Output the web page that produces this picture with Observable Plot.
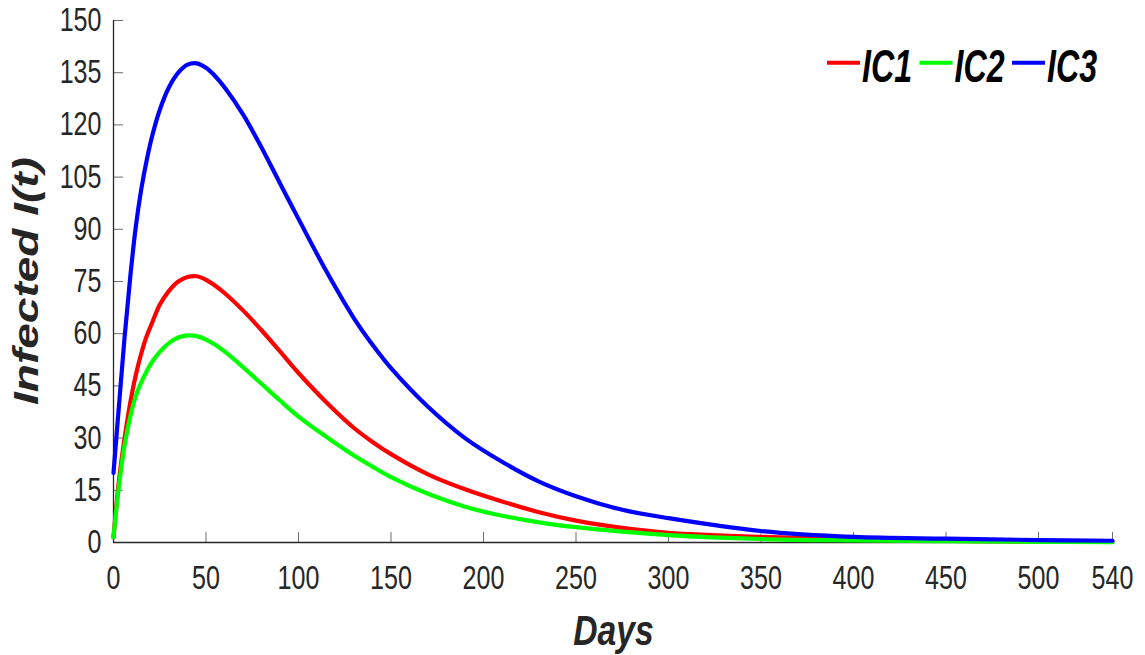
<!DOCTYPE html>
<html><head><meta charset="utf-8">
<script src="https://cdn.jsdelivr.net/npm/d3@7"></script>
<script src="https://cdn.jsdelivr.net/npm/@observablehq/plot@0.6"></script>
<style>
html,body{margin:0;padding:0;background:#fff;}
#chart{position:relative;width:1145px;height:655px;}
</style></head><body><div id="chart"></div>
<script>
const days = [0,3,6,9,12,15,18,21,25,30,35,40,45,50,55,60,70,80,90,100,115,130,140,150,170,190,210,230,250,275,300,350,400,450,500,540];
const ic1 = [1.5,18,30,40,48,54.3,59.4,63.3,68.3,72.3,75,76.3,76.5,75.5,73.8,71.7,66.7,61,54.9,48.7,40.3,32.9,28.9,25.4,19.6,15.3,11.8,8.7,6.3,4.2,2.8,1.6,0.9,0.5,0.3,0.2];
const ic2 = [1.5,16.5,28,36,42,46,49.3,52,54.8,57.3,58.9,59.5,59.3,58.3,56.8,54.9,50.4,45.6,40.8,36.2,30.4,25,21.8,18.8,14,10.3,7.7,5.8,4.4,3.1,2.1,1,0.6,0.4,0.2,0.1];
const ic3 = [20,39.6,59,76,90.5,101.5,110,117,124.3,130.8,135,137.3,137.7,136.4,134,130.8,123,113.5,103.2,93,78,64.4,56.8,50.1,39,30,23.2,17.5,13.3,9.4,7,3.3,1.6,1.1,0.7,0.5];
const seriesNames = ["IC1","IC2","IC3"];
const seriesColors = ["#ff0000","#00ff00","#0000ff"];
const xTicks = [0,50,100,150,200,250,300,350,400,450,500,540];
const yTicks = [0,15,30,45,60,75,90,105,120,135,150];
const xLabel = "Days";
const yLabel = "Infected I(t)";

const table = [ic1, ic2, ic3].flatMap((vals, k) => vals.map((v, i) => ({day: days[i], value: v, series: seriesNames[k]})));

const FONT = "'Liberation Sans', Arial, Helvetica, sans-serif";
const TXT = "#262626";
const W = 1145, H = 655, ML = 113, MR = 33, MT = 20, MB = 113;

const plot = Plot.plot({
  width: W, height: H,
  marginLeft: ML, marginRight: MR, marginTop: MT, marginBottom: MB,
  style: {fontFamily: FONT, background: "#fff", color: TXT},
  x: {domain: [0, 540]},
  y: {domain: [0, 150]},
  color: {domain: seriesNames, range: seriesColors},
  marks: [
    Plot.axisX({ticks: xTicks, tickSize: -10, tickPadding: 33, fontSize: 33, stroke: "#6e6e6e", fill: TXT, label: null, tickFormat: d => String(d)}),
    Plot.axisY({ticks: yTicks, tickSize: -10, tickPadding: 22, fontSize: 33, stroke: "#6e6e6e", fill: TXT, label: null, tickFormat: d => String(d)}),
    Plot.ruleX([0], {stroke: TXT, strokeWidth: 1.3}),
    Plot.ruleY([0], {stroke: TXT, strokeWidth: 1.3}),
    Plot.line(table, {x: "day", y: "value", stroke: "series", z: "series", strokeWidth: 4.2, curve: "catmull-rom"})
  ]
});

const svg = d3.select(plot);
function squeeze(sel, sx, sy) {
  sel.each(function() {
    const t = this.getAttribute("transform") || "";
    this.setAttribute("transform", t + ` scale(${sx},${sy})`);
  });
}
squeeze(svg.selectAll('g[aria-label="x-axis tick label"] text'), 0.76, 1);
squeeze(svg.selectAll('g[aria-label="y-axis tick label"] text'), 0.76, 1);

// axis titles
const frameCx = (ML + W - MR) / 2, frameCy = (MT + H - MB) / 2;
svg.append("text")
  .attr("transform", `translate(${frameCx + 1},645) scale(0.8,1)`)
  .attr("text-anchor", "middle").attr("font-family", FONT).attr("font-size", 42)
  .attr("font-weight", "bold").attr("font-style", "italic").attr("fill", TXT).text(xLabel);
svg.append("text")
  .attr("transform", `translate(38,${frameCy}) rotate(-90) scale(1,0.76)`)
  .attr("text-anchor", "middle").attr("font-family", FONT).attr("font-size", 46)
  .attr("font-weight", "bold").attr("font-style", "italic").attr("fill", TXT).text(yLabel);

// legend
const lg = svg.append("g").attr("aria-label", "legend");
seriesNames.forEach((name, i) => {
  const x0 = 827 + i * 92.5;
  lg.append("line").attr("x1", x0).attr("x2", x0 + 33).attr("y1", 62.7).attr("y2", 62.7)
    .attr("stroke", seriesColors[i]).attr("stroke-width", 4);
  lg.append("text").attr("transform", `translate(${x0 + 35},81.5) scale(0.7,1)`)
    .attr("text-anchor", "start")
    .attr("font-family", FONT).attr("font-size", 46).attr("font-weight", "bold").attr("font-style", "italic")
    .attr("fill", "#000").text(name);
});

document.getElementById("chart").appendChild(plot);
</script></body></html>
